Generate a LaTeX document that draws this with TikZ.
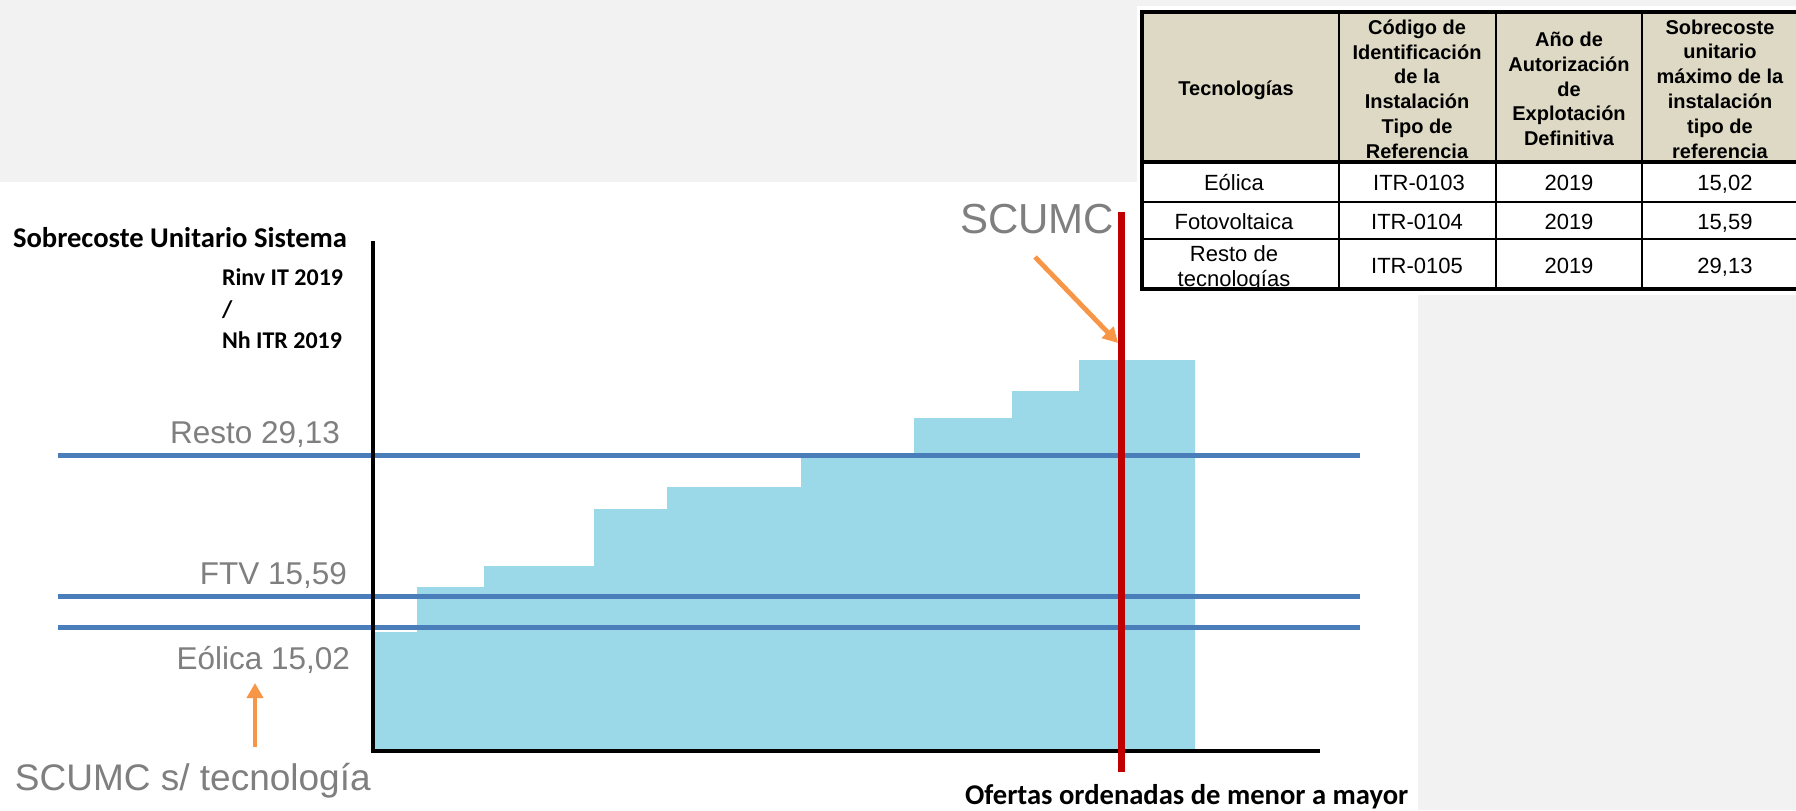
\documentclass[tikz,border=0pt]{standalone}
\usepackage{fontspec}
\setmainfont{Liberation Sans}
\newfontfamily\calib{Carlito}
\usetikzlibrary{arrows.meta}
\definecolor{bggray}{HTML}{F2F2F2}
\definecolor{barblue}{HTML}{9BD8E8}
\definecolor{lineblue}{HTML}{4A7EBB}
\definecolor{scred}{HTML}{C00000}
\definecolor{orng}{HTML}{F79646}
\definecolor{txtgray}{HTML}{7F7F7F}
\definecolor{hdrtan}{HTML}{DDD9C4}
\begin{document}
\begin{tikzpicture}[x=0.5pt,y=-0.5pt,
  every node/.style={inner sep=0pt,outer sep=0pt},
  lbl/.style={font=\fontsize{15.75}{18}\selectfont,text=txtgray},
  axlbl/.style={font=\calib\bfseries\fontsize{14.3}{17}\selectfont,text=black},
  unitlbl/.style={font=\calib\bfseries\fontsize{12}{14}\selectfont,text=black},
  hdrcell/.style={font=\bfseries\fontsize{10}{12.4}\selectfont,align=center},
  bodycell/.style={font=\fontsize{11}{12.5}\selectfont,align=center},
  refline/.style={draw=lineblue,line width=2.5pt},
  axisline/.style={draw=black,line width=2pt},
  pointer/.style={draw=orng,line width=2.4pt,-{Triangle[length=7.5pt,width=8pt]}},
  gridthin/.style={draw=black,line width=1pt},
  gridthick/.style={draw=black,line width=1.6pt}]
\useasboundingbox (0,0) rectangle (1796,810);
% backgrounds
\fill[bggray] (0,0) rectangle (1796,810);
\fill[white] (0,182) rectangle (1418,810);
\fill[white] (1137,6) rectangle (1796,295);
% ---------- table ----------
\fill[hdrtan] (1142,12) rectangle (1796,162);
\node[hdrcell,anchor=base] (h1) at (1236,95) {Tecnologías};
\node[hdrcell] (h2) at (1417,89) {Código de\\Identificación\\de la\\Instalación\\Tipo de\\Referencia};
\node[hdrcell] (h3) at (1569,89) {Año de\\Autorización\\de\\Explotación\\Definitiva};
\node[hdrcell] (h4) at (1720,89) {Sobrecoste\\unitario\\máximo de la\\instalación\\tipo de\\referencia};
\node[bodycell,anchor=base] (r1c1) at (1234,190) {Eólica};
\node[bodycell,anchor=base] (r1c2) at (1419,190) {ITR-0103};
\node[bodycell,anchor=base] (r1c3) at (1569,190) {2019};
\node[bodycell,anchor=base] (r1c4) at (1725,190) {15,02};
\node[bodycell,anchor=base] (r2c1) at (1234,229) {Fotovoltaica};
\node[bodycell,anchor=base] (r2c2) at (1417,229) {ITR-0104};
\node[bodycell,anchor=base] (r2c3) at (1569,229) {2019};
\node[bodycell,anchor=base] (r2c4) at (1725,229) {15,59};
\node[bodycell] (r3c1) at (1234,268) {Resto de\\tecnologías};
\node[bodycell,anchor=base] (r3c2) at (1417,273) {ITR-0105};
\node[bodycell,anchor=base] (r3c3) at (1569,273) {2019};
\node[bodycell,anchor=base] (r3c4) at (1725,273) {29,13};
\draw[gridthin] (1339,12) -- (1339,289) (1496,12) -- (1496,289) (1642,12) -- (1642,289);
\draw[gridthin] (1142,202) -- (1796,202) (1142,239) -- (1796,239);
\draw[gridthick] (1142,162) -- (1796,162);
\draw[gridthick] (1796,12) -- (1142,12) -- (1142,289) -- (1796,289);
% ---------- chart ----------
\fill[barblue] (375,750) -- (375,632) -- (417,632) -- (417,587) -- (484,587) -- (484,566)
  -- (594,566) -- (594,509) -- (667,509) -- (667,487) -- (801,487) -- (801,453)
  -- (914,453) -- (914,418) -- (1012,418) -- (1012,391) -- (1079,391) -- (1079,360)
  -- (1195,360) -- (1195,750) -- cycle;
\draw[refline] (58,455) -- (1360,455);
\draw[refline] (58,596) -- (1360,596);
\draw[refline] (58,627) -- (1360,627);
\coordinate (ytop) at (373,241);
\coordinate (origin) at (373,751);
\coordinate (xend) at (1320,751);
\draw[axisline] (ytop) -- (origin) -- (xend);
\coordinate (scumctop) at (1121,212);
\coordinate (scumcbot) at (1121,772);
\draw[draw=scred,line width=3.5pt] (scumctop) -- (scumcbot);
% labels
\node[axlbl,anchor=base west] (ylab) at (13,247) {Sobrecoste Unitario Sistema};
\node[unitlbl,anchor=base west] (u1) at (222,285) {Rinv IT 2019};
\node[unitlbl,anchor=base west] (u2) at (222,317) {/};
\node[unitlbl,anchor=base west] (u3) at (222,348) {Nh ITR 2019};
\node[axlbl,anchor=base west] (xlab) at (965,804) {Ofertas ordenadas de menor a mayor};
\node[lbl,anchor=base east] (resto) at (340,443) {Resto 29,13};
\node[lbl,anchor=base east] (ftv) at (347,584) {FTV 15,59};
\node[lbl,anchor=base east] (eol) at (350,669) {Eólica 15,02};
\node[text=txtgray,font=\fontsize{18.5}{21}\selectfont,anchor=base west] (stec) at (15,790) {SCUMC s/ tecnología};
\node[text=txtgray,font=\fontsize{21}{24}\selectfont,anchor=base west] (scumc) at (960,233) {SCUMC};
% pointers
\coordinate (p1s) at (255,747);
\coordinate (p1e) at (255,683);
\draw[pointer] (p1s) -- (p1e);
\coordinate (p2s) at (1035,257);
\coordinate (p2e) at (1118,343);
\draw[pointer] (p2s) -- (p2e);
\end{tikzpicture}
\end{document}
